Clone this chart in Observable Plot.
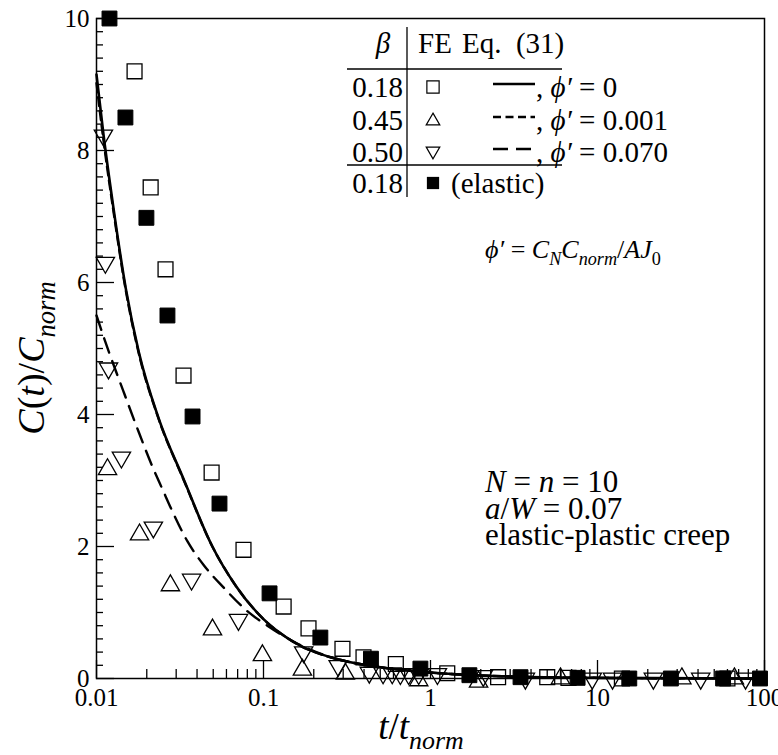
<!DOCTYPE html>
<html><head><meta charset="utf-8">
<script src="https://cdn.jsdelivr.net/npm/d3@7"></script>
<script src="https://cdn.jsdelivr.net/npm/@observablehq/plot@0.6"></script>
<style>body{margin:0;background:#fff}</style>
</head><body><div id="chart"></div>
<script>
// ---- data ----
// FE, beta = 0.18 (open squares)
const sqOpenT = [0.0169, 0.0211, 0.0259, 0.0332, 0.0489, 0.0759, 0.132, 0.186, 0.297, 0.397, 0.62, 1.26, 2.54, 5.0, 6.7, 14, 60];
const sqOpenC = [9.2, 7.44, 6.2, 4.59, 3.12, 1.95, 1.09, 0.76, 0.45, 0.32, 0.22, 0.08, 0.02, 0.02, 0.01, 0.0, 0.0];
// FE, beta = 0.18 elastic (filled squares)
const sqFillT = [0.01196, 0.0149, 0.0199, 0.0266, 0.0376, 0.0545, 0.1087, 0.219, 0.44, 0.87, 1.71, 3.46, 7.6, 15.5, 27.5, 56.5, 94];
const sqFillC = [10.0, 8.5, 6.98, 5.5, 3.97, 2.65, 1.29, 0.62, 0.30, 0.15, 0.05, 0.02, 0.01, 0.0, 0.0, 0.0, 0.0];
// FE, beta = 0.45 (up triangles)
const triUpT = [0.01164, 0.0181, 0.0277, 0.0495, 0.0985, 0.171, 0.309, 0.85, 1.94, 6.0, 32, 66];
const triUpC = [3.17, 2.18, 1.41, 0.74, 0.35, 0.13, 0.07, -0.03, -0.05, 0.0, 0.0, 0.0];
// FE, beta = 0.50 (down triangles)
const triDnT = [0.0110, 0.0113, 0.0118, 0.0141, 0.0219, 0.0371, 0.0708, 0.174, 0.28, 0.43, 0.52, 0.59, 0.66, 0.74, 0.85, 1.1, 2.07, 3.7, 9.3, 12.3, 21.6, 41.5, 77];
const triDnC = [8.23, 6.3, 4.7, 3.35, 2.29, 1.5, 0.89, 0.40, 0.19, 0.09, 0.08, 0.08, 0.07, 0.07, 0.07, 0.07, 0.04, 0.0, 0.0, 0.0, 0.0, 0.0, 0.0];
// Eq. (31), phi' = 0 (solid)
const eqSolidT = [0.01, 0.011, 0.0126, 0.015, 0.0179, 0.0235, 0.0335, 0.0494, 0.068, 0.1, 0.15, 0.29, 0.42, 0.73, 1.5, 3, 10, 100];
const eqSolidC = [9.15, 8.25, 7.15, 5.9, 4.95, 3.95, 3.0, 2.0, 1.41, 0.9, 0.56, 0.28, 0.2, 0.12, 0.06, 0.03, 0.01, 0.0];
// Eq. (31), phi' = 0.001 (short dash)
const eqShortT = [0.01, 0.011, 0.0126, 0.015, 0.0179, 0.0235, 0.0335, 0.0494, 0.068, 0.1, 0.15, 0.29, 0.42, 0.73, 1.5, 3, 10, 100];
const eqShortC = [9.02, 8.16, 7.1, 5.87, 4.93, 3.94, 2.99, 2.0, 1.41, 0.9, 0.56, 0.28, 0.2, 0.12, 0.06, 0.03, 0.01, 0.0];
// Eq. (31), phi' = 0.070 (long dash)
const eqLongT = [0.01, 0.0113, 0.0145, 0.0178, 0.0217, 0.0249, 0.0285, 0.035, 0.0438, 0.0576, 0.08, 0.1055, 0.159, 0.29, 0.42, 0.73, 1.5, 3, 10, 100];
const eqLongC = [5.5, 5.1, 4.35, 3.75, 3.2, 2.86, 2.53, 2.08, 1.72, 1.38, 1.02, 0.8, 0.53, 0.28, 0.2, 0.12, 0.06, 0.03, 0.01, 0.0];

// ticks and labels
const xMajor = [0.01, 0.1, 1, 10, 100];
const xMajorLabels = ["0.01", "0.1", "1", "10", "100"];
const xMinor = [0.02,0.03,0.04,0.05,0.06,0.07,0.08,0.09, 0.2,0.3,0.4,0.5,0.6,0.7,0.8,0.9, 2,3,4,5,6,7,8,9, 20,30,40,50,60,70,80,90];
const yMajor = [0, 2, 4, 6, 8, 10];
const yMajorLabels = ["0", "2", "4", "6", "8", "10"];
const yMinor = d3.range(1, 50).map(i => +(i * 0.2).toFixed(1)).filter(v => Math.abs(v / 2 - Math.round(v / 2)) > 1e-6);

// legend labels
const betaLabels = ["0.18", "0.45", "0.50"];
const phiLabels = ["0", "0.001", "0.070"];
const elasticBeta = "0.18";

const rows = (T, C) => T.map((t, i) => ({t, c: C[i]}));
const xLab = new Map(xMajor.map((v, i) => [v, xMajorLabels[i]]));
const yLab = new Map(yMajor.map((v, i) => [v, yMajorLabels[i]]));
const ink = "black";
const FONT = '"Liberation Serif"';

const chart = Plot.plot({
  width: 778, height: 755,
  marginLeft: 96, marginRight: 14, marginTop: 18, marginBottom: 77,
  x: {type: "log", domain: [0.01, 100]},
  y: {domain: [0, 10]},
  style: {color: ink, background: "white", overflow: "visible"},
  marks: [
    Plot.axisX(xMinor, {tickSize: -9, tickFormat: () => "", label: null, strokeWidth: 1.3}),
    Plot.axisX(xMajor, {tickSize: -18, tickFormat: () => "", label: null, strokeWidth: 1.3}),
    Plot.axisX(xMajor, {tickSize: 0, tickPadding: 10, tickFormat: d => xLab.get(d), label: null, fontSize: 25}),
    Plot.axisY(yMinor, {tickSize: -7, tickFormat: () => "", label: null, strokeWidth: 1.3}),
    Plot.axisY(yMajor, {tickSize: -18, tickFormat: () => "", label: null, strokeWidth: 1.3}),
    Plot.axisY(yMajor, {tickSize: 0, tickPadding: 7, tickFormat: d => yLab.get(d), label: null, fontSize: 25}),
    Plot.line(rows(eqSolidT, eqSolidC), {x: "t", y: "c", stroke: ink, strokeWidth: 2.6, curve: "monotone-x"}),
    Plot.line(rows(eqShortT, eqShortC), {x: "t", y: "c", stroke: ink, strokeWidth: 2.4, strokeDasharray: "9,5", curve: "monotone-x"}),
    Plot.line(rows(eqLongT, eqLongC), {x: "t", y: "c", stroke: ink, strokeWidth: 2.4, strokeDasharray: "15,9", curve: "monotone-x"}),
    Plot.dot(rows(sqOpenT, sqOpenC), {x: "t", y: "c", symbol: "square", r: 8.4, stroke: ink, strokeWidth: 1.3, fill: "none"}),
    Plot.dot(rows(triUpT, triUpC), {x: "t", y: "c", symbol: "triangle", r: 6.8, stroke: ink, strokeWidth: 1.3, fill: "none"}),
    Plot.dot(rows(triDnT, triDnC), {x: "t", y: "c", symbol: "triangle", rotate: 180, r: 6.8, stroke: ink, strokeWidth: 1.3, fill: "none"}),
    Plot.dot(rows(sqFillT, sqFillC), {x: "t", y: "c", symbol: "square", r: 8.4, stroke: ink, strokeWidth: 1, fill: ink}),
    Plot.frame({stroke: ink, strokeWidth: 1.5})
  ]
});
document.getElementById("chart").appendChild(chart);

// ---- annotations, legend table, axis titles ----
const svg = d3.select(chart);
const g = svg.append("g").attr("fill", ink);

function mathText(parent, x, y, size, segs, anchor = "start", transform = null) {
  const t = parent.append("text").attr("x", x).attr("y", y).attr("font-size", size).attr("text-anchor", anchor);
  if (transform) t.attr("transform", transform);
  let shift = 0;
  for (const [txt, flags = ""] of segs) {
    const sp = t.append("tspan").text(txt);
    if (flags.includes("i")) sp.style("font-style", "italic");
    const target = flags.includes("s") ? size * 0.28 : 0;
    if (target !== shift) { sp.attr("dy", target - shift); shift = target; }
    if (flags.includes("s")) sp.attr("font-size", size * 0.7);
  }
  return t;
}

// axis titles
mathText(g, 0, 0, 38, [["C","i"],["("],["t","i"],[")"],["/"],["C","i"],["norm","is"]], "middle", "translate(44,358) rotate(-90)");
mathText(g, 421, 739, 37, [["t","i"],["/"],["t","i"],["norm","is"]], "middle");

// formula
const PHI = "\u03D5\u2032";
mathText(g, 485, 258, 26, [[PHI,"i"],[" = "],["C","i"],["N","is"],["C","i"],["norm","is"],["/"],["AJ","i"],["0","s"]]);

// parameter block
mathText(g, 485, 492, 31, [["N","i"],[" = "],["n","i"],[" = 10"]]);
mathText(g, 485, 519, 31, [["a","i"],["/"],["W","i"],[" = 0.07"]]);
mathText(g, 485, 545, 31, [["elastic-plastic creep"]]);

// legend table
const L = g.append("g");
const fs = 29;
L.append("line").attr("x1", 407).attr("x2", 407).attr("y1", 27).attr("y2", 197).attr("stroke", ink).attr("stroke-width", 1.3);
L.append("line").attr("x1", 347).attr("x2", 562).attr("y1", 69).attr("y2", 69).attr("stroke", ink).attr("stroke-width", 1.3);
L.append("line").attr("x1", 347).attr("x2", 562).attr("y1", 165).attr("y2", 165).attr("stroke", ink).attr("stroke-width", 1.3);
mathText(L, 383, 53, fs, [["\u03B2","i"]], "middle");
mathText(L, 418, 53, fs, [["FE"]]);
mathText(L, 462, 53, fs, [["Eq.  (31)"]]);
const rowY = [87, 120, 152];
const symArea = 150, triArea = 80;
const dashes = [null, "8,4.5", "15,8"];
rowY.forEach((cy, i) => {
  mathText(L, 403, cy + 10, fs, [[betaLabels[i]]], "end");
  const p = i === 0 ? d3.symbol(d3.symbolSquare, symArea)() : d3.symbol(d3.symbolTriangle, triArea)();
  L.append("path").attr("d", p).attr("fill", "none").attr("stroke", ink).attr("stroke-width", 1.2)
    .attr("transform", `translate(433,${cy + (i === 0 ? 0 : (i === 1 ? 1 : -1))})${i === 2 ? " rotate(180)" : ""}`);
  const ln = L.append("line").attr("x1", 493).attr("x2", 535).attr("y1", cy - 3).attr("y2", cy - 3)
    .attr("stroke", ink).attr("stroke-width", 2.4);
  if (dashes[i]) ln.attr("stroke-dasharray", dashes[i]);
  mathText(L, 536, cy + 10, fs, [[", "],[PHI,"i"],[" = " + phiLabels[i]]]);
});
mathText(L, 403, 193, fs, [[elasticBeta]], "end");
L.append("path").attr("d", d3.symbol(d3.symbolSquare, symArea)()).attr("fill", ink).attr("transform", "translate(433,183)");
mathText(L, 451, 193, fs, [["(elastic)"]]);

// serif font on every text element, inline
svg.attr("font-family", "Liberation Serif").style("font-family", FONT);
svg.selectAll("text").style("font-family", FONT);
svg.selectAll("tspan").style("font-family", FONT);
</script>
</body></html>
